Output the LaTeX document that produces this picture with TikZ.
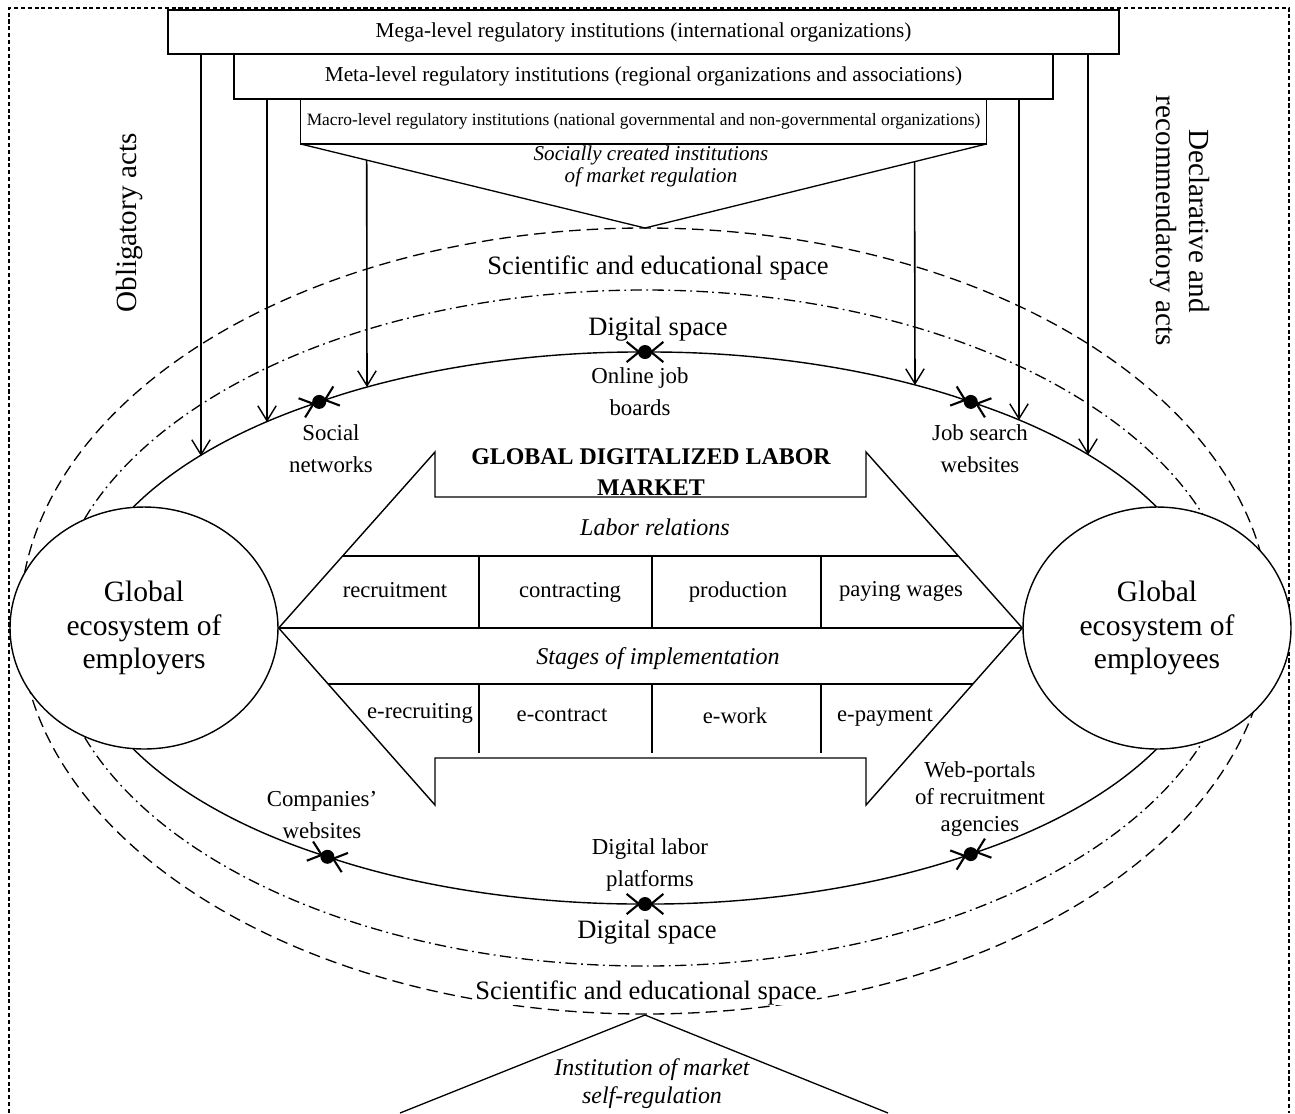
\documentclass[tikz,border=0pt]{standalone}
\usepackage{fontspec}
\setmainfont{Liberation Serif}
\usetikzlibrary{arrows.meta, positioning, calc, shapes.geometric}

\begin{document}
\begin{tikzpicture}[
  x=0.02cm, y=-0.02cm,
  every node/.style={align=center, inner sep=0pt},
  regbox/.style={draw, line width=0.75pt, outer sep=0pt, minimum height=0.9cm, font=\fontsize{12.1}{14}\selectfont},
  eco/.style={draw, fill=white, ellipse, line width=0.8pt, minimum width=5.36cm, minimum height=4.84cm, font=\fontsize{16.8}{19}\selectfont},
  spacelbl/.style={font=\fontsize{15.1}{18}\selectfont},
  sitelbl/.style={font=\fontsize{13}{18.2}\selectfont},
  cell/.style={font=\fontsize{12.9}{15}\selectfont},
  rowhead/.style={font=\itshape\fontsize{13.7}{16}\selectfont},
  actslbl/.style={font=\fontsize{16.6}{18.8}\selectfont},
  netdot/.style={circle, fill, minimum size=0.28cm},
  dotbarb/.tip={Straight Barb[length=7pt, width=11.5pt, line width=1.2pt]},
  actbarb/.tip={Straight Barb[length=8.5pt, width=10.5pt, line width=0.8pt]},
  orbit/.style={x radius=568, y radius=276},
  link/.style={line width=0.8pt, shorten <=2.5pt, shorten >=2.5pt},
  actarrow/.style={-actbarb, line width=0.9pt},
  outframe/.style={line width=0.6pt, dash pattern=on 2.3pt off 1.6pt},
  sciring/.style={line width=0.75pt, dash pattern=on 6.5pt off 3.5pt},
  digring/.style={line width=0.75pt, dash pattern=on 6.5pt off 2.5pt on 1pt off 2.5pt}
]
\useasboundingbox (0,0) rectangle (1295,1113);
\draw[outframe] (9,1113) -- (9,8) -- (1289,8) -- (1289,1113);

\draw[sciring] (645,621) ellipse [x radius=625, y radius=393];
\draw[digring] (645,628) ellipse [x radius=592, y radius=338];

\coordinate (wEnd) at (77,628);
\coordinate (eEnd) at (1213,628);
\node[netdot] (dSoc) at (319.2,401.9) {};
\node[netdot] (dTop) at (645,352) {};
\node[netdot] (dJob) at (970.8,401.9) {};
\node[netdot] (dWeb) at (970.8,854.1) {};
\node[netdot] (dBot) at (645,904) {};
\node[netdot] (dCom) at (327.4,856.8) {};

\draw[link, -dotbarb] (wEnd) arc[start angle=180, end angle=235, orbit];
\draw[link, dotbarb-dotbarb] (dSoc.center) arc[start angle=235, end angle=270, orbit];
\draw[link, dotbarb-dotbarb] (dTop.center) arc[start angle=270, end angle=305, orbit];
\draw[link, dotbarb-] (dJob.center) arc[start angle=305, end angle=360, orbit];
\draw[link, -dotbarb] (eEnd) arc[start angle=0, end angle=55, orbit];
\draw[link, dotbarb-dotbarb] (dWeb.center) arc[start angle=55, end angle=90, orbit];
\draw[link, dotbarb-dotbarb] (dBot.center) arc[start angle=90, end angle=124, orbit];
\draw[link, dotbarb-] (dCom.center) arc[start angle=124, end angle=180, orbit];

\node[eco] (emp) at (144,628) {Global\\ecosystem of\\employers};
\node[eco] (ees) at (1157,628) {Global\\ecosystem of\\employees};

\draw[line width=0.8pt] (emp.east) -- (435,452) -- (435,497) -- (866,497) -- (866,452) -- (ees.west)
  -- (866,805) -- (866,758) -- (435,758) -- (435,805) -- cycle;
\draw[line width=0.8pt] ($(emp.east)!0.409!(435,452)$) -- ($(ees.west)!0.409!(866,452)$);
\draw[line width=0.8pt] (emp.east) -- (ees.west);
\draw[line width=0.8pt] ($(emp.east)!0.3164!(435,805)$) -- ($(ees.west)!0.3164!(866,805)$);
\foreach \x in {479,652,821}
  \draw[line width=0.8pt] (\x,556) -- (\x,628) (\x,684) -- (\x,753);

\node[font=\bfseries\fontsize{13.6}{17.6}\selectfont] (glm) at (651,472) {GLOBAL DIGITALIZED LABOR\\MARKET};
\node[rowhead] (lrel) at (655,527) {Labor relations};
\node[cell] (c1) at (395,590) {recruitment};
\node[cell] (c2) at (570,592) {contracting};
\node[cell] (c3) at (738,592) {production};
\node[cell] (c4) at (901,591) {paying wages};
\node[rowhead] (stg) at (658,659) {Stages of implementation};
\node[cell] (s1) at (420,713) {e-recruiting};
\node[cell] (s2) at (562,715) {e-contract};
\node[cell] (s3) at (735,716) {e-work};
\node[cell] (s4) at (885,718) {e-payment};

\node[regbox, minimum width=19.02cm, minimum height=0.88cm] (mega) at (643.5,32) {Mega-level regulatory institutions (international organizations)};
\node[regbox, minimum width=16.38cm, below=0pt of mega] (meta) {Meta-level regulatory institutions (regional organizations and associations)};
\node[regbox, minimum width=13.72cm, below=0pt of meta, font=\fontsize{9.9}{12}\selectfont] (macro) {Macro-level regulatory institutions (national governmental and non-governmental organizations)};

\coordinate (topapex) at (645,228);
\draw[line width=0.75pt] (macro.south west) -- (topapex) -- (macro.south east);
\node[font=\itshape\fontsize{12}{12.5}\selectfont] (soc) at (651,166) {Socially created institutions\\of market regulation};

\coordinate (eA) at (201,456);
\coordinate (eB) at (267,422);
\coordinate (eC) at (367,387);
\coordinate (eD) at (915,385);
\coordinate (eE) at (1019,420);
\coordinate (eF) at (1088,455);
\draw[actarrow] (mega.south -| eA) -- (eA);
\draw[actarrow] (meta.south -| eB) -- (eB);
\draw[actarrow] ($(macro.south west)!0.192!(topapex)$) -- (eC);
\draw[actarrow] ($(macro.south east)!0.2105!(topapex)$) -- (eD);
\draw[actarrow] (meta.south -| eE) -- (eE);
\draw[actarrow] (mega.south -| eF) -- (eF);

\node[actslbl, rotate=90] (oblig) at (130,223) {Obligatory acts};
\node[actslbl, rotate=-90] (decl) at (1180,221) {Declarative and\\recommendatory acts};

\node[spacelbl] (sciT) at (658,268) {Scientific and educational space};
\node[spacelbl] (digT) at (658,329) {Digital space};
\node[sitelbl] (onl) at (640,392) {Online job\\boards};
\node[sitelbl] (socn) at (331,449) {Social\\networks};
\node[sitelbl] (jobs) at (980,449) {Job search\\websites};
\node[sitelbl] (comp) at (322,815) {Companies’\\websites};
\node[sitelbl, font=\fontsize{13}{15.4}\selectfont] (webp) at (980,799) {Web-portals\\of recruitment\\agencies};
\node[sitelbl] (dlp) at (650,865) {Digital labor\\platforms};
\node[spacelbl] (digB) at (647,932) {Digital space};
\node[spacelbl, fill=white] (sciB) at (646,993) {Scientific and educational space};

\coordinate (botapex) at (645,1015);
\draw[line width=0.75pt] (400,1113) -- (botapex) -- (888,1113);
\node[font=\itshape\fontsize{13.6}{16}\selectfont] (selfreg) at (652,1084) {Institution of market\\self-regulation};
\end{tikzpicture}
\end{document}
